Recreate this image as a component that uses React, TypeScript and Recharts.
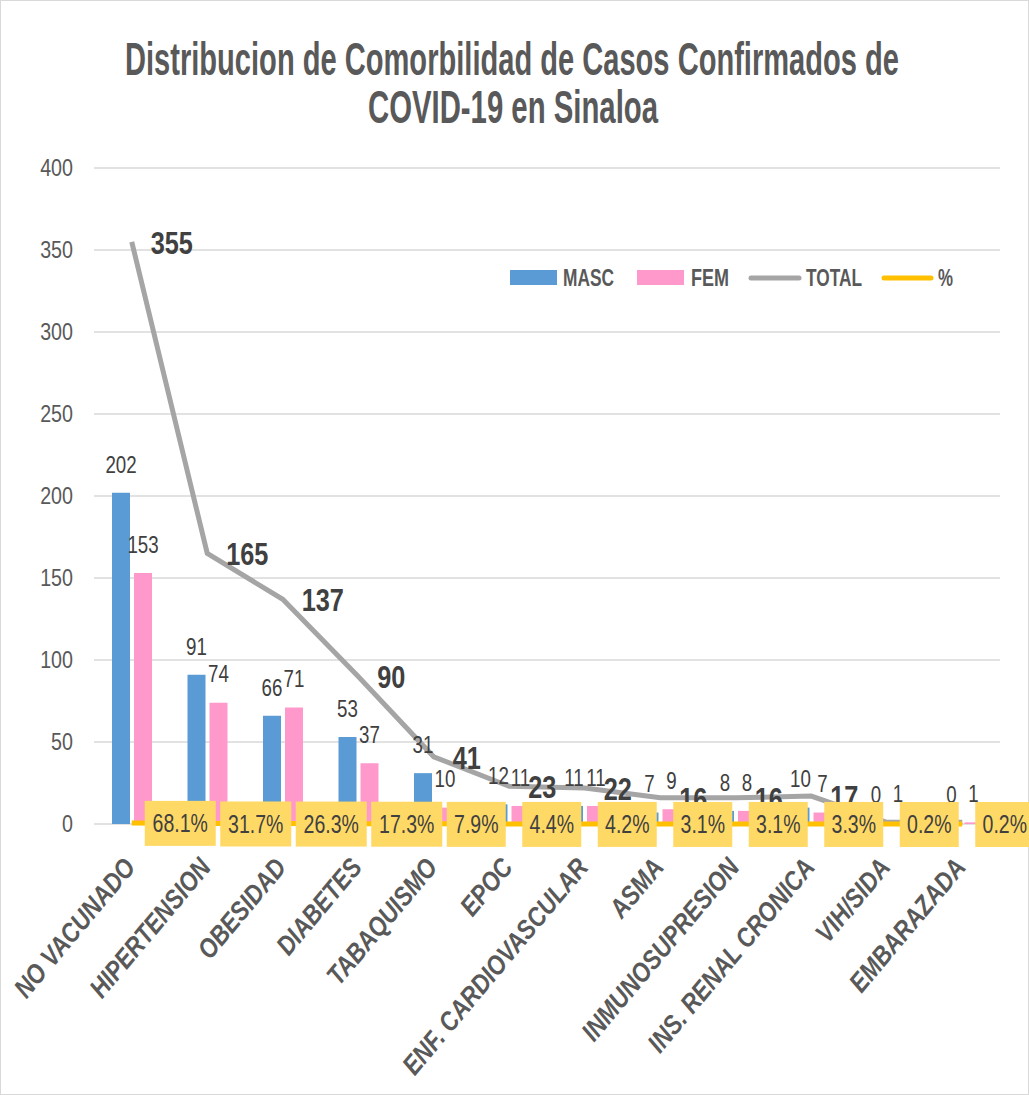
import React from "react";
import {
  Bar,
  CartesianGrid,
  ComposedChart,
  LabelList,
  Line,
  XAxis,
  YAxis,
} from "recharts";

const categories = [
  "NO VACUNADO",
  "HIPERTENSION",
  "OBESIDAD",
  "DIABETES",
  "TABAQUISMO",
  "EPOC",
  "ENF. CARDIOVASCULAR",
  "ASMA",
  "INMUNOSUPRESION",
  "INS. RENAL CRONICA",
  "VIH/SIDA",
  "EMBARAZADA",
];
const masc = [202, 91, 66, 53, 31, 12, 11, 7, 8, 10, 0, 0];
const fem = [153, 74, 71, 37, 10, 11, 11, 9, 8, 7, 1, 1];
const total = [355, 165, 137, 90, 41, 23, 22, 16, 16, 17, 1, 1];
const pct = [68.1, 31.7, 26.3, 17.3, 7.9, 4.4, 4.2, 3.1, 3.1, 3.3, 0.2, 0.2];
const yTicks = [0, 50, 100, 150, 200, 250, 300, 350, 400];

const data = categories.map((name, i) => ({
  name,
  masc: masc[i],
  fem: fem[i],
  total: total[i],
  pct: pct[i] / 100,
}));

// no narrow fonts installed, so Liberation Sans gets squeezed horizontally
const FONT = '"Liberation Sans", Arial, sans-serif';
const TEXT = "#404040";
const GREY = "#595959";

const CategoryTick = (props: any) => {
  const { x, y, payload } = props;
  return (
    <g transform={`translate(${x + 5}, ${y + 44}) rotate(-50) scale(0.85, 1)`}>
      <text
        x={0}
        y={0}
        textAnchor="end"
        fill={GREY}
        fontFamily={FONT}
        fontSize={27}
        fontWeight="bold"
        fontStyle="italic"
      >
        {payload.value}
      </text>
    </g>
  );
};

const ValueTick = (props: any) => {
  const { x, y, payload } = props;
  return (
    <g transform={`translate(${x}, ${y}) scale(0.82, 1)`}>
      <text
        x={0}
        y={0}
        textAnchor="end"
        dominantBaseline="central"
        fill={GREY}
        fontFamily={FONT}
        fontSize={24}
      >
        {payload.value}
      </text>
    </g>
  );
};

const BarLabel = (props: any) => {
  const { x, y, width, value } = props;
  return (
    <g transform={`translate(${x + width / 2}, ${y - 28}) scale(0.78, 1)`}>
      <text
        x={0}
        y={0}
        textAnchor="middle"
        dominantBaseline="central"
        fill={TEXT}
        fontFamily={FONT}
        fontSize={24}
      >
        {value}
      </text>
    </g>
  );
};

const TotalLabel = (props: any) => {
  const { x, y, value } = props;
  return (
    <g transform={`translate(${x + 19}, ${y + 1}) scale(0.79, 1)`}>
      <text
        x={0}
        y={0}
        dominantBaseline="central"
        fill={TEXT}
        fontFamily={FONT}
        fontSize={32}
        fontWeight="bold"
      >
        {value}
      </text>
    </g>
  );
};

const PctLabel = (props: any) => {
  const { x, y, value } = props;
  const text = (value * 100).toFixed(1) + "%";
  const w = text.length >= 5 ? 71 : 59;
  return (
    <g>
      <rect x={x + 13} y={y - 22} width={w} height={45} fill="#FFD966" />
      <g transform={`translate(${x + 13 + w / 2}, ${y + 1}) scale(0.78, 1)`}>
        <text
          x={0}
          y={0}
          textAnchor="middle"
          dominantBaseline="central"
          fill={TEXT}
          fontFamily={FONT}
          fontSize={25}
        >
          {text}
        </text>
      </g>
    </g>
  );
};

export default function App() {
  return (
    <div
      style={{
        position: "absolute",
        left: 0,
        top: 0,
        width: 1029,
        height: 1095,
        background: "#fff",
        boxSizing: "border-box",
        border: "1px solid #d9d9d9",
      }}
    >
      <div style={{ position: "absolute", left: 0, top: 0 }}>
        <ComposedChart
          width={1029}
          height={1095}
          data={data}
          margin={{ top: 167, right: 30, bottom: 0, left: 0 }}
          barGap={4}
          barSize={18}
        >
          <CartesianGrid vertical={false} stroke="#D9D9D9" strokeWidth={1.5} />
          <XAxis
            dataKey="name"
            height={272}
            interval={0}
            tickLine={false}
            axisLine={false}
            tickSize={0}
            tickMargin={0}
            tick={<CategoryTick />}
          />
          <YAxis
            width={93}
            domain={[0, 400]}
            ticks={yTicks}
            tickLine={false}
            axisLine={false}
            tickSize={0}
            tickMargin={21}
            tick={<ValueTick />}
          />
          {/* minPointSize keeps the zero bars around so their "0" labels draw */}
          <Bar dataKey="masc" fill="#5B9BD5" minPointSize={1} isAnimationActive={false}>
            <LabelList dataKey="masc" content={<BarLabel />} />
          </Bar>
          <Bar dataKey="fem" fill="#FF99CC" minPointSize={1} isAnimationActive={false}>
            <LabelList dataKey="fem" content={<BarLabel />} />
          </Bar>
          <Line
            dataKey="total"
            stroke="#A5A5A5"
            strokeWidth={5}
            dot={false}
            isAnimationActive={false}
          >
            <LabelList dataKey="total" content={<TotalLabel />} />
          </Line>
          <Line
            dataKey="pct"
            stroke="#FFC000"
            strokeWidth={5}
            dot={false}
            isAnimationActive={false}
          >
            <LabelList dataKey="pct" content={<PctLabel />} />
          </Line>
        </ComposedChart>
      </div>
      <svg
        width={1029}
        height={300}
        style={{ position: "absolute", left: 0, top: 0, pointerEvents: "none" }}
      >
        <g fontFamily={FONT} fontWeight="bold" fill={GREY}>
          <text
            x={124}
            y={74}
            fontSize={46}
            textLength={774}
            lengthAdjust="spacingAndGlyphs"
          >
            Distribucion de Comorbilidad de Casos Confirmados de
          </text>
          <text
            x={367}
            y={122}
            fontSize={46}
            textLength={290}
            lengthAdjust="spacingAndGlyphs"
          >
            COVID-19 en Sinaloa
          </text>
          <rect x={509} y={269} width={47} height={15} fill="#5B9BD5" />
          <text x={562} y={285} fontSize={23} textLength={51} lengthAdjust="spacingAndGlyphs">
            MASC
          </text>
          <rect x={636} y={269} width={47} height={15} fill="#FF99CC" />
          <text x={690} y={285} fontSize={23} textLength={38} lengthAdjust="spacingAndGlyphs">
            FEM
          </text>
          <line x1={750} y1={277} x2={798} y2={277} stroke="#A5A5A5" strokeWidth={5} strokeLinecap="round" />
          <text x={805} y={285} fontSize={23} textLength={56} lengthAdjust="spacingAndGlyphs">
            TOTAL
          </text>
          <line x1={883} y1={277} x2={930} y2={277} stroke="#FFC000" strokeWidth={5} strokeLinecap="round" />
          <text x={937} y={285} fontSize={23} textLength={15} lengthAdjust="spacingAndGlyphs">
            %
          </text>
        </g>
      </svg>
    </div>
  );
}
